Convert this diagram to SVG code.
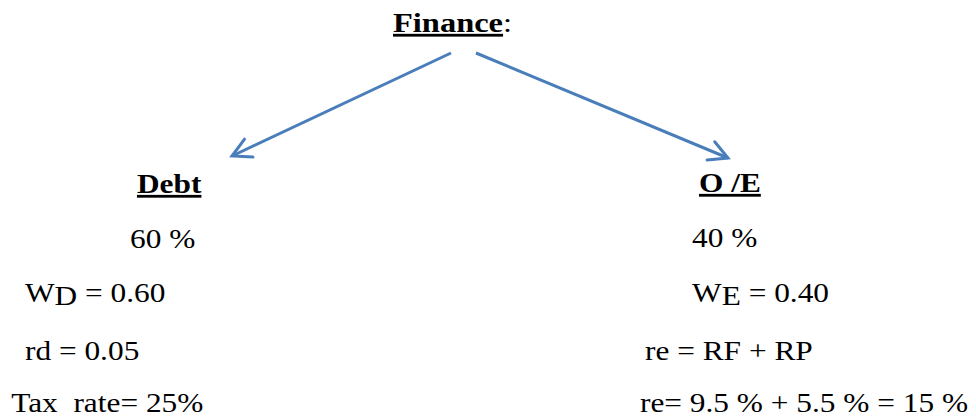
<svg xmlns="http://www.w3.org/2000/svg" width="976" height="419" viewBox="0 0 976 419">
<style>
text{font-family:"Liberation Serif","Times New Roman",serif;font-size:28px;fill:#000}
.h{font-weight:bold;text-decoration:underline}
.c{stroke:#4A7EBB;stroke-width:3;fill:none}
</style>
<defs>
<marker id="ah" markerUnits="userSpaceOnUse" markerWidth="30" markerHeight="30" viewBox="-25 -15 30 30" refX="0" refY="0" orient="auto" overflow="visible">
<path d="M-18.5,-9.9 L0,0 L-18.5,9.9" stroke="#4A7EBB" stroke-width="3" fill="none" stroke-linecap="round"/>
</marker>
</defs>
<rect width="976" height="419" fill="#fff"/>
<g id="finance" transform="scale(1.16 1)"><text x="338.8" y="32"><tspan class="h">Finance</tspan>:</text></g>
<g id="connectors">
<line class="c" x1="451" y1="53" x2="232" y2="156" marker-end="url(#ah)"/>
<line class="c" x1="476" y1="53" x2="728" y2="158" marker-end="url(#ah)"/>
</g>
<g id="debt" transform="scale(1.12 1)">
<text class="h" x="122.3" y="193">Debt</text>
<text x="116.1" y="248">60 %</text>
<text x="22.3" y="302">W<tspan dy="3">D</tspan><tspan dy="-3"> = 0.60</tspan></text>
<text x="22.3" y="360">rd = 0.05</text>
<text x="10" y="412" xml:space="preserve">Tax  rate= 25%</text>
</g>
<g id="equity" transform="scale(1.12 1)">
<text class="h" x="624.1" y="192">O /E</text>
<text x="617.9" y="247">40 %</text>
<text x="617.9" y="302">W<tspan dy="3">E</tspan><tspan dy="-3"> = 0.40</tspan></text>
<text x="575.9" y="360">re = RF + RP</text>
<text x="571.4" y="412">re= 9.5 % + 5.5 % = 15 %</text>
</g>
</svg>
